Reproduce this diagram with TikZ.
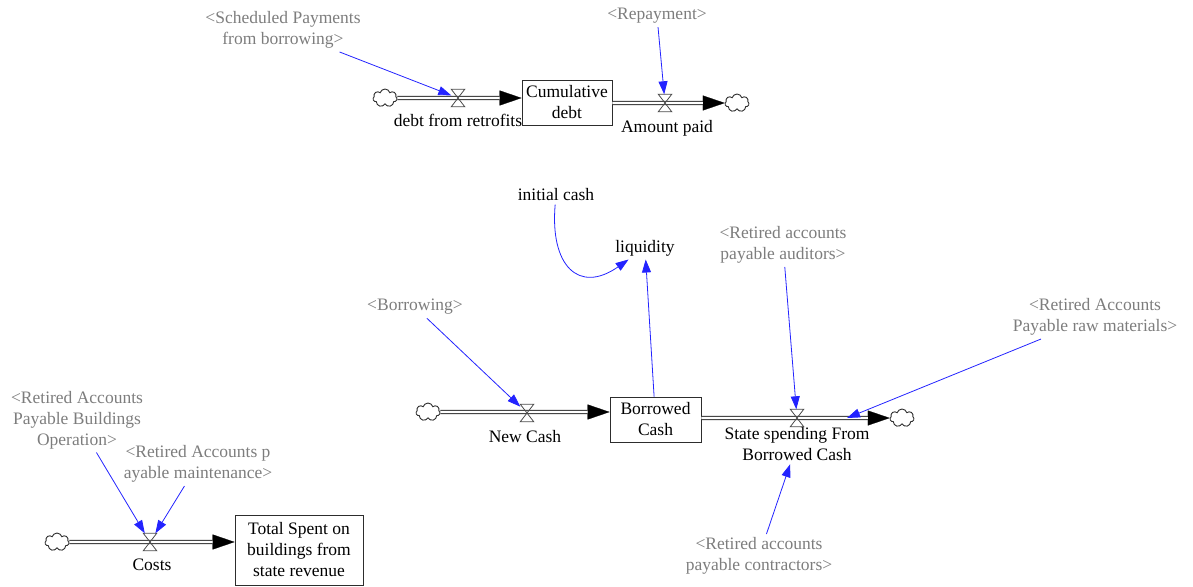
\documentclass[tikz,border=0pt]{standalone}
\usepackage{fontspec}
\setmainfont{Liberation Serif}[Ligatures=TeX]
\usetikzlibrary{arrows.meta,shapes.symbols,positioning}
\definecolor{infoblue}{RGB}{35,35,255}
\definecolor{shadowgray}{RGB}{125,125,125}
\definecolor{pipeink}{RGB}{45,45,45}

\begin{document}
\begin{tikzpicture}[x=1pt,y=-1pt,
    every node/.style={font=\rmfamily\fontsize{17.5}{21}\selectfont},
    stock/.style={draw=pipeink,fill=white,align=center,inner sep=0pt,line width=0.8pt},
    valve/.style={inner sep=0pt,minimum width=13pt,minimum height=17pt},
    valveline/.style={draw=pipeink!85,line width=0.8pt},
    cloudend/.style={cloud,cloud puffs=7,aspect=1.4,draw=pipeink,fill=white,inner sep=0pt,
      minimum width=24pt,minimum height=18pt,line width=0.9pt},
    pipe/.style={draw=pipeink,double=white,double distance=2.4pt,line width=0.9pt},
    pipetip/.style={draw=black,line width=0.2pt,-{Triangle[length=22pt,width=15pt]}},
    info/.style={draw=infoblue,line width=0.8pt,-{Triangle[length=13pt,width=9pt]}},
    shadow/.style={text=shadowgray,align=center},
    varname/.style={align=center}]
  \useasboundingbox (0,0) rectangle (1193,586);

  % debt chain
  \node[cloudend] (srcdebt) at (385,98) {};
  \node[valve] (vdebt) at (458,98) {};
  \node[stock,minimum width=90pt,minimum height=45pt] (cumdebt) at (567,102.5) {Cumulative\\debt};
  \node[valve] (vpaid) at (665,103) {};
  \node[cloudend] (sinkdebt) at (737,103) {};
  \node[varname] (debtlbl) at (458,120) {debt from retrofits};
  \node[varname] (paidlbl) at (667,128) {Amount paid};
  \node[shadow] (schedpay) at (283,30) {<Scheduled Payments\\from borrowing>};
  \node[shadow] (repay) at (657,16) {<Repayment>};

  % cash chain
  \node[cloudend] (srccash) at (428,412) {};
  \node[valve] (vcash) at (527,413) {};
  \node[stock,minimum width=91pt,minimum height=45pt] (borrowed) at (655.5,419.5) {Borrowed\\Cash};
  \node[valve] (vspend) at (797,418) {};
  \node[cloudend] (sinkcash) at (902,418) {};
  \node[varname] (cashlbl) at (525,437) {New Cash};
  \node[varname] (spendlbl) at (797,444) {State spending From\\Borrowed Cash};
  \node[shadow] (borrowing) at (415,307) {<Borrowing>};
  \node[varname] (initcash) at (556,195) {initial cash};
  \node[varname] (liquidity) at (645,248) {liquidity};
  \node[shadow] (auditors) at (783,245) {<Retired accounts\\payable auditors>};
  \node[shadow] (rawmat) at (1095,317) {<Retired Accounts\\Payable raw materials>};
  \node[shadow] (contractors) at (759,556) {<Retired accounts\\payable contractors>};
  \coordinate (rawhit) at (847,418);

  % costs chain
  \node[cloudend] (srccost) at (57,542) {};
  \node[valve] (vcost) at (150,542) {};
  \node[stock,minimum width=128pt,minimum height=70pt] (totalspent) at (299,550) {Total Spent on\\buildings from\\state revenue};
  \node[varname] (costlbl) at (152,565) {Costs};
  \node[shadow] (bldgops) at (77,420) {<Retired Accounts\\Payable Buildings\\Operation>};
  \node[shadow] (maint) at (198,464) {<Retired Accounts p\\ayable maintenance>};

  % pipes
  \foreach \a/\b in {srcdebt.east/cumdebt.west |- srcdebt, cumdebt.east |- sinkdebt/sinkdebt.west,
                     srccash.east/borrowed.west |- srccash, borrowed.east |- sinkcash/sinkcash.west,
                     srccost.east/totalspent.west |- srccost} {
    \draw[pipetip] (\a) -- (\b);
    \draw[pipe,shorten >=22pt] (\a) -- (\b);
  }
  \foreach \v in {vdebt,vpaid,vcash,vspend,vcost}
    \draw[valveline] (\v.north west) -- (\v.north east) -- (\v.south west) -- (\v.south east) -- cycle;

  % information links
  \draw[info] (schedpay) -- (vdebt);
  \draw[info] (repay) -- (vpaid);
  \draw[info] (borrowing) -- (vcash);
  \draw[info] (initcash) to[out=-95,in=215,looseness=1.7] (liquidity);
  \draw[info] (borrowed) -- (liquidity);
  \draw[info] (auditors) -- (vspend);
  \draw[info] (rawmat) -- (rawhit);
  \draw[info] (contractors) -- (spendlbl);
  \draw[info] (bldgops) -- (vcost);
  \draw[info] (maint) -- (vcost);
\end{tikzpicture}
\end{document}
